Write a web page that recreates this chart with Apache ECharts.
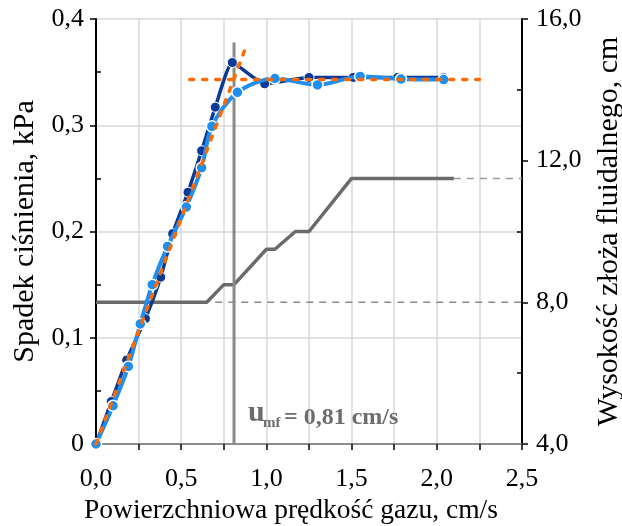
<!DOCTYPE html>
<html><head><meta charset="utf-8">
<script src="https://cdn.jsdelivr.net/npm/echarts@6/dist/echarts.min.js"></script>
<style>html,body{margin:0;padding:0;background:#fff}#c{width:622px;height:526px}</style>
</head><body><div id="c"></div>
<script>
// Dark blue series (pressure drop, kPa)
const darkU = [0, 0.09, 0.18, 0.29, 0.38, 0.45, 0.54, 0.62, 0.70, 0.80, 0.99, 1.25, 1.51, 1.77, 2.04];
const darkP = [0, 0.040, 0.079, 0.118, 0.157, 0.198, 0.237, 0.276, 0.317, 0.359, 0.339, 0.345, 0.345, 0.345, 0.345];
// Light blue series
const lightU = [0, 0.10, 0.19, 0.26, 0.33, 0.42, 0.53, 0.62, 0.68, 0.83, 1.05, 1.30, 1.55, 1.79, 2.04];
const lightP = [0, 0.036, 0.073, 0.113, 0.150, 0.186, 0.223, 0.260, 0.299, 0.331, 0.344, 0.338, 0.346, 0.3435, 0.343];
// Orange fit lines
const fitRiseU = [0, 0.884];
const fitRiseP = [0, 0.3755];
const fitFlatU = [0.55, 2.25];
const fitFlatP = [0.343, 0.343];
// Bed height (cm), right axis
const heightU = [0, 0.65, 0.75, 0.81, 1.00, 1.05, 1.17, 1.25, 1.50, 2.10];
const heightH = [8.0, 8.0, 8.5, 8.5, 9.5, 9.5, 10.0, 10.0, 11.5, 11.5];
const h0DashU = [0.70, 2.5];
const h0DashH = [8.0, 8.0];
const hEndDashU = [2.10, 2.5];
const hEndDashH = [11.5, 11.5];
// u_mf marker
const umf = 0.81;
const umfLineP = [0, 0.378];
// Ticks
const xLabels = [0, 0.5, 1.0, 1.5, 2.0, 2.5];
const yLeftLabels = [0, 0.1, 0.2, 0.3, 0.4];
const yLeftMinor = [0.05, 0.15, 0.25, 0.35];
const yRightLabels = [4, 8, 12, 16];
const yRightMinor = [6, 10, 14];

const zip = (a, b) => a.map((v, i) => [v, b[i]]);
const FONT = 'Liberation Serif';
const comma = (v, d) => v.toFixed(d).replace('.', ',');

const chart = echarts.init(document.getElementById('c'), null, {renderer: 'canvas'});
const gridCol = '#d9d9d9';
const txt = {fontFamily: FONT, fontSize: 26, color: '#000'};
const ttl = {fontFamily: FONT, fontSize: 30, color: '#000'};
const orange = {color: '#ff6a00', width: 3.5, type: [4, 9], cap: 'round'};
const annCol = '#6d6d6d';

chart.setOption({
  animation: false,
  backgroundColor: '#fff',
  grid: {left: 96, right: 100, top: 19, bottom: 82, containLabel: false, outerBoundsMode: 'none'},
  xAxis: {
    type: 'value', min: 0, max: 2.5, interval: 0.25,
    name: 'Powierzchniowa prędkość gazu, cm/s', nameLocation: 'middle', nameGap: 51,
    nameTextStyle: {...ttl, fontSize: 27.5, padding: [0, 36, 0, 0]},
    axisLine: {show: true, lineStyle: {color: '#8c8c8c', width: 2}},
    axisTick: {show: true, inside: false, length: 6, lineStyle: {color: '#000', width: 1.5}},
    axisLabel: {customValues: xLabels, margin: 22, formatter: v => comma(v, 1), ...txt},
    splitLine: {show: true, lineStyle: {color: gridCol, width: 1.5}}
  },
  yAxis: [
    {
      type: 'value', min: 0, max: 0.4, interval: 0.05, position: 'left',
      name: 'Spadek ciśnienia, kPa', nameLocation: 'middle', nameGap: 55, nameRotate: 90,
      nameTextStyle: ttl,
      axisLine: {show: true, lineStyle: {color: '#000', width: 2}},
      axisTick: {show: true, customValues: yLeftLabels, inside: false, length: 6, lineStyle: {color: '#000', width: 1.5}},
      axisLabel: {customValues: yLeftLabels, margin: 12, formatter: v => v === 0 ? '0' : comma(v, 1), ...txt},
      splitLine: {show: true, lineStyle: {color: gridCol, width: 1.5}}
    },
    {
      type: 'value', min: 4, max: 16, interval: 2, position: 'right',
      name: 'Wysokość złoża fluidalnego, cm', nameLocation: 'middle', nameGap: 72, nameRotate: 90,
      nameTextStyle: ttl,
      axisLine: {show: true, lineStyle: {color: '#000', width: 2}},
      axisTick: {show: true, customValues: yRightLabels, inside: false, length: 6, lineStyle: {color: '#000', width: 1.5}},
      axisLabel: {customValues: yRightLabels, margin: 14, formatter: v => comma(v, 1), ...txt},
      splitLine: {show: false}
    },
    {
      type: 'value', min: 0, max: 0.4, position: 'left',
      axisLine: {show: false}, axisLabel: {show: false}, splitLine: {show: false},
      axisTick: {show: true, customValues: yLeftMinor, inside: true, length: 5, lineStyle: {color: '#000', width: 1.5}}
    },
    {
      type: 'value', min: 4, max: 16, position: 'right',
      axisLine: {show: false}, axisLabel: {show: false}, splitLine: {show: false},
      axisTick: {show: true, customValues: yRightMinor, inside: true, length: 5, lineStyle: {color: '#000', width: 1.5}}
    }
  ],
  series: [
    {type: 'line', yAxisIndex: 1, data: zip(h0DashU, h0DashH), symbol: 'none', z: 1,
     lineStyle: {color: '#8a8a8a', width: 1.5, type: [7, 6]}},
    {type: 'line', yAxisIndex: 1, data: zip(hEndDashU, hEndDashH), symbol: 'none', z: 1,
     lineStyle: {color: '#9a9a9a', width: 1.5, type: [7, 6]}},
    {type: 'line', yAxisIndex: 1, data: zip(heightU, heightH), symbol: 'none', z: 2,
     lineStyle: {color: '#6b6b6b', width: 3.5}},
    {type: 'line', yAxisIndex: 0, data: zip([umf, umf], umfLineP), symbol: 'none', z: 2,
     lineStyle: {color: '#8a8a8a', width: 3}},
    {type: 'line', data: zip(darkU, darkP), smooth: 0.15, symbol: 'circle', symbolSize: 10, z: 3,
     itemStyle: {color: '#0b3a96', borderColor: '#ffffff', borderWidth: 1},
     lineStyle: {color: '#0b3a96', width: 3.5}},
    {type: 'line', data: zip(lightU, lightP), smooth: 0.3, symbol: 'circle', symbolSize: 11, z: 4,
     itemStyle: {color: '#1e8ff0', borderColor: '#ffffff', borderWidth: 1.5},
     lineStyle: {color: '#1e8ff0', width: 4}},
    {type: 'line', data: zip(fitRiseU, fitRiseP), symbol: 'none', z: 5, lineStyle: orange},
    {type: 'line', data: zip(fitFlatU, fitFlatP), symbol: 'none', z: 5, lineStyle: orange}
  ],
  graphic: [
    {type: 'text', x: 248, y: 428, z: 10,
     style: {text: 'u', fontFamily: FONT, fontSize: 30, fontWeight: 'bold', fill: annCol, verticalAlign: 'bottom'}},
    {type: 'text', x: 263, y: 431, z: 10,
     style: {text: 'mf', fontFamily: FONT, fontSize: 15, fontWeight: 'bold', fill: annCol, verticalAlign: 'bottom'}},
    {type: 'text', x: 284, y: 430, z: 10,
     style: {text: '= 0,81 cm/s', fontFamily: FONT, fontSize: 24, fontWeight: 'bold', fill: annCol, verticalAlign: 'bottom'}}
  ]
});
</script></body></html>
